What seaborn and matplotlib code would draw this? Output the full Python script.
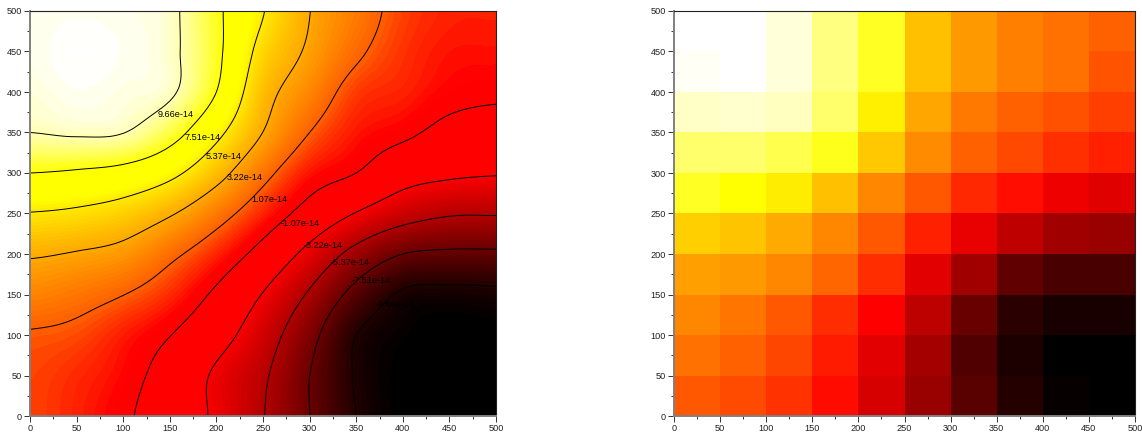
import numpy as np
import matplotlib
matplotlib.use('Agg')
import matplotlib.pyplot as plt
from matplotlib.colors import LinearSegmentedColormap
from matplotlib.ticker import MultipleLocator
import seaborn as sns

# values in units of 1e-14
# field at the grid nodes, first row is y=0, columns are x=0,50,...,500
smooth_rows = [
    [0.55, 0.0, -0.8, -2.1, -3.5, -5.3, -7.5, -9.66, -10.7, -10.8, -10.8],
    [0.6, 0.15, -0.5, -1.8, -3.5, -5.1, -7.5, -9.8, -10.7, -10.9, -10.9],
    [0.95, 0.7, -0.1, -1.03, -2.45, -4.4, -6.9, -9.66, -10.5, -10.8, -10.7],
    [2.1, 1.7, 1.1, 0.15, -1.37, -3.3, -5.6, -8.15, -9.9, -10.1, -10.0],
    [3.4, 3.1, 2.65, 1.45, 0.05, -1.7, -3.8, -6.0, -7.51, -7.8, -7.8],
    [5.3, 5.05, 4.5, 3.4, 1.8, 0.0, -1.75, -3.3, -4.55, -5.2, -5.25],
    [7.51, 7.3, 6.9, 5.85, 3.9, 1.6, -0.25, -1.07, -2.4, -2.9, -3.1],
    [9.66, 9.85, 9.7, 8.3, 5.85, 3.2, 1.07, -0.2, -0.75, -1.55, -1.85],
    [10.2, 10.5, 10.3, 9.9, 7.51, 3.95, 2.15, 0.45, 0.0, -0.6, -0.8],
    [10.4, 10.7, 10.5, 10.0, 7.9, 4.75, 2.95, 1.35, 0.3, -0.25, -0.3],
    [10.4, 10.5, 10.4, 10.0, 7.85, 5.45, 3.25, 1.85, 0.55, 0.0, -0.05],
]
# 50x50 cells of the right panel, first row is y=450-500
cell_rows = [
    [10.7, 10.7, 10.22, 9.1, 7.9, 4.05, 2.78, 2.0, 1.58, 1.05],
    [10.55, 10.7, 10.22, 9.1, 7.9, 4.05, 2.78, 2.0, 1.58, 0.87],
    [9.98, 10.06, 9.9, 8.86, 5.58, 3.2, 1.78, 1.05, 0.81, 0.54],
    [8.86, 8.86, 8.46, 7.82, 4.3, 2.35, 1.05, 0.7, 0.28, 0.04],
    [7.9, 7.5, 5.5, 4.05, 2.24, 0.93, 0.15, -0.26, -3.5, -3.92],
    [4.55, 4.16, 3.3, 2.24, 0.93, 0.04, -3.67, -4.92, -5.85, -6.1],
    [3.0, 2.78, 2.24, 1.25, 0.21, -3.84, -5.85, -7.77, -8.52, -8.52],
    [2.24, 1.68, 0.93, 0.21, -1.5, -5.01, -7.52, -9.44, -9.95, -9.95],
    [1.58, 1.05, 0.63, -0.08, -3.84, -5.76, -8.27, -9.86, -10.7, -10.7],
    [0.93, 0.75, 0.33, -0.32, -4.26, -6.1, -8.02, -9.61, -10.45, -10.7],
]
contour_levels = [-9.66, -7.51, -5.37, -3.22, -1.07, 1.07, 3.22, 5.37, 7.51, 9.66]
contour_labels = ['-9.66e-14', '-7.51e-14', '-5.37e-14', '-3.22e-14', '-1.07e-14',
                  '1.07e-14', '3.22e-14', '5.37e-14', '7.51e-14', '9.66e-14']
label_x = [371, 345, 322, 294, 269, 238, 211, 189, 166, 137]
label_y = [138, 167, 189, 211, 238, 267, 294, 320, 344, 372]
tick_values = [0, 50, 100, 150, 200, 250, 300, 350, 400, 450, 500]

VMIN, VMAX = -10.7, 10.7


def make_cmap():
    nodes = [(-10.7, '#000000'), (-3.0, '#ff0000'), (-0.5, '#ff0000'), (1.07, '#ff6000'),
             (3.22, '#ffa800'), (5.37, '#ffe800'), (6.0, '#ffff00'), (7.5, '#ffff00'), (10.7, '#ffffff')]
    return LinearSegmentedColormap.from_list(
        'field', [((v - VMIN) / (VMAX - VMIN), c) for v, c in nodes], N=512)


def smooth(z, factor=10):
    # catmull-rom along each axis, the same way the source draws a smooth surface
    def along(a):
        n = a.shape[0]
        idx = np.linspace(0, n - 1, (n - 1) * factor + 1)
        i = np.clip(idx.astype(int), 0, n - 2)
        t = (idx - i)[:, None]
        p0 = a[np.clip(i - 1, 0, n - 1)]
        p1 = a[i]
        p2 = a[i + 1]
        p3 = a[np.clip(i + 2, 0, n - 1)]
        return 0.5 * (2 * p1 + (p2 - p0) * t + (2 * p0 - 5 * p1 + 4 * p2 - p3) * t ** 2
                      + (3 * p1 - p0 - 3 * p2 + p3) * t ** 3)
    return along(along(z).T).T


def style_axis(ax):
    for side in ['top', 'right']:
        ax.spines[side].set_visible(True)
        ax.spines[side].set_color('#222222')
        ax.spines[side].set_linewidth(0.8)
    for side in ['left', 'bottom']:
        ax.spines[side].set_visible(True)
        ax.spines[side].set_color('#808080')
        ax.spines[side].set_linewidth(1.4)
    ax.tick_params(which='major', length=4.5, width=0.7, color='#333333', labelsize=6.6, pad=1.5,
                   left=True, bottom=True, labelcolor='#222222')
    ax.tick_params(which='minor', length=2.5, width=0.7, color='#333333', left=True, bottom=True)


sns.set_theme(style='white')
plt.rcParams['font.family'] = ['Liberation Sans', 'DejaVu Sans']

cmap = make_cmap()
W, H = 1142, 436
fig = plt.figure(figsize=(W / 100, H / 100), dpi=100)
ax1 = fig.add_axes([30 / W, 1 - 416 / H, 466 / W, 405 / H])
ax2 = fig.add_axes([674 / W, 1 - 416 / H, 461 / W, 405 / H])

# left panel, smooth field and contours
xs = np.linspace(0, 500, 101)
zs = smooth(np.array(smooth_rows))
ax1.contourf(xs, xs, zs, levels=np.linspace(VMIN, VMAX, 130), cmap=cmap, vmin=VMIN, vmax=VMAX, extend='both')
ax1.contour(xs, xs, zs, levels=sorted(contour_levels), colors='black', linewidths=0.7, linestyles='solid')
for x, y, s in zip(label_x, label_y, contour_labels):
    ax1.text(x, y, s, fontsize=6.6, color='black', ha='left', va='center')
ax1.set_xlim(0, 500)
ax1.set_ylim(0, 500)
ax1.set_xticks(tick_values)
ax1.set_yticks(tick_values)
ax1.xaxis.set_minor_locator(MultipleLocator(25))
ax1.yaxis.set_minor_locator(MultipleLocator(25))
style_axis(ax1)

# right panel, coarse cells
sns.heatmap(np.array(cell_rows), ax=ax2, cmap=cmap, vmin=VMIN, vmax=VMAX, cbar=False,
            xticklabels=False, yticklabels=False, square=False)
pos = np.arange(len(tick_values))
ax2.set_xticks(pos)
ax2.set_xticklabels(tick_values, rotation=0)
ax2.set_yticks(pos)
ax2.set_yticklabels(tick_values[::-1], rotation=0)
ax2.xaxis.set_minor_locator(MultipleLocator(0.5))
ax2.yaxis.set_minor_locator(MultipleLocator(0.5))
style_axis(ax2)

fig.savefig('out.png', dpi=100)
